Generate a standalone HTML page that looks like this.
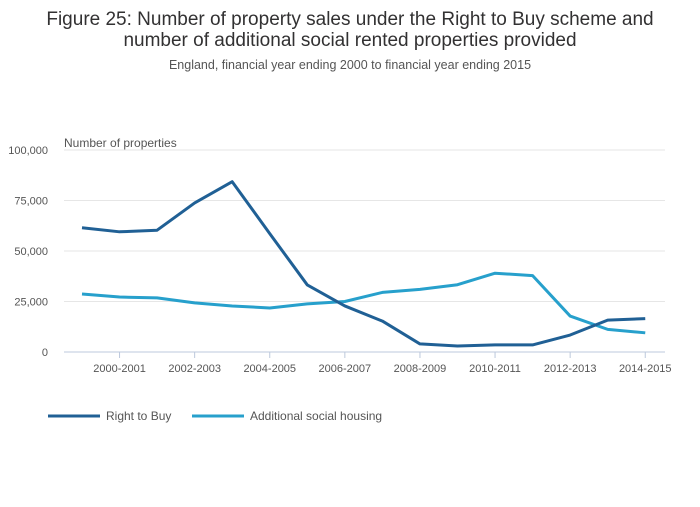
<!DOCTYPE html>
<html><head><meta charset="utf-8"><style>
body{margin:0;background:#fff;font-family:"Liberation Sans",sans-serif;}
</style></head><body>
<svg width="700" height="502" xmlns="http://www.w3.org/2000/svg" id="chart">
<text x="350" y="25" text-anchor="middle" font-size="19" fill="#323132">Figure 25: Number of property sales under the Right to Buy scheme and</text>
<text x="350" y="46" text-anchor="middle" font-size="19" fill="#323132">number of additional social rented properties provided</text>
<text x="350" y="69" text-anchor="middle" font-size="12.5" fill="#555">England, financial year ending 2000 to financial year ending 2015</text>
<text x="64" y="147" font-size="12" fill="#555">Number of properties</text>
<g id="grid"></g><g id="series"></g>
<g>
<line x1="48" y1="416" x2="100" y2="416" stroke="#206095" stroke-width="3"/>
<text x="106" y="420" font-size="12" fill="#555">Right to Buy</text>
<line x1="192" y1="416" x2="244" y2="416" stroke="#27a0cc" stroke-width="3"/>
<text x="250" y="420" font-size="12" fill="#555">Additional social housing</text>
</g>
</svg>
<script>
const categories=["1999-2000","2000-2001","2001-2002","2002-2003","2003-2004","2004-2005","2005-2006","2006-2007","2007-2008","2008-2009","2009-2010","2010-2011","2011-2012","2012-2013","2013-2014","2014-2015"];
const rightToBuy=[61500,59500,60300,73800,84300,58600,33200,22800,15300,4000,3000,3500,3500,8400,15800,16500];
const socialHousing=[28700,27200,26800,24300,22800,21800,23800,25000,29500,31000,33300,39000,37800,17800,11200,9500];
const yTicks=[0,25000,50000,75000,100000];
const ns="http://www.w3.org/2000/svg";
const x=i=>82+i*37.55;
const y=v=>352-v*0.00202;
const grid=document.getElementById('grid'),ser=document.getElementById('series');
function mk(t,a,p){const e=document.createElementNS(ns,t);for(const k in a)e.setAttribute(k,a[k]);p.appendChild(e);return e;}
yTicks.forEach(v=>{
 const l=mk('line',{x1:64,x2:665,y1:y(v),y2:y(v),stroke:v===0?'#bcc8dc':'#e6e6e6','stroke-width':1},grid);
 
 
 const t=mk('text',{x:48,y:y(v)+4,'text-anchor':'end','font-size':11,fill:'#555'},grid);
 t.textContent=v.toLocaleString('en-GB');
 
 
});
categories.forEach((c,i)=>{
 if(i%2===1){
  const tk=mk('line',{x1:x(i),x2:x(i),y1:352,y2:358,stroke:'#bcc8dc'},grid);
  
  
  const t=mk('text',{x:x(i),y:372,'text-anchor':'middle','font-size':11,fill:'#555'},grid);
  t.textContent=c;
  
  
 }
});
function line(data,color,name){
 const p=mk('polyline',{points:data.map((v,i)=>x(i)+','+y(v)).join(' '),fill:'none',stroke:color,'stroke-width':3,'stroke-linejoin':'round'},ser);
 
 
}
line(socialHousing,'#27a0cc','line-social-housing');
line(rightToBuy,'#206095','line-right-to-buy');
</script>
</body></html>
